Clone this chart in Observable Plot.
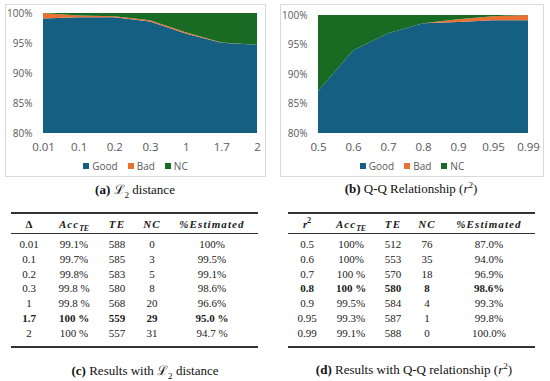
<!DOCTYPE html>
<html><head><meta charset="utf-8">
<script src="https://cdn.jsdelivr.net/npm/d3@7"></script>
<script src="https://cdn.jsdelivr.net/npm/@observablehq/plot@0.6"></script>
<style>
body{margin:0;background:#fff;}
#root{position:relative;width:550px;height:381px;overflow:hidden;}
.box{position:absolute;border:1px solid #d9d9d9;box-sizing:border-box;}
.plot{position:absolute;}
.legend{position:absolute;display:flex;justify-content:center;align-items:center;gap:0;font-family:"Open Sans",sans-serif;font-size:10px;color:#595959;height:12px;}
.legend .it{display:flex;align-items:center;margin:0 5px;}
.legend .sw{width:6px;height:6px;margin-right:3px;}
.cap{position:absolute;font-family:"Liberation Serif",serif;font-size:13px;color:#111;white-space:nowrap;transform:translate(-50%,-50%);}
.cell{position:absolute;font-family:"Liberation Serif",serif;font-size:11px;color:#1a1a1a;white-space:nowrap;transform:translate(-50%,-50%);}
.hd{font-weight:bold;}
.rule{position:absolute;background:#333;}
sub,sup{font-size:70%;line-height:0;}
</style></head><body><div id="root"></div>
<script>
// ---- chart data (percent of samples) ----
const series = ["Good", "Bad", "NC"];
const seriesColors = ["#156082", "#E97132", "#196B24"];
const yTicks = [80, 85, 90, 95, 100];

const l2Labels = ["0.01", "0.1", "0.2", "0.3", "1", "1.7", "2"];
const l2Good = [99.1, 99.3, 99.3, 98.6, 96.6, 95.05, 94.7];
const l2Bad  = [0.9, 0.3, 0.15, 0.2, 0.2, 0.05, 0.0];
const l2NC   = [0.0, 0.4, 0.55, 1.2, 3.2, 4.9, 5.3];

const qqLabels = ["0.5", "0.6", "0.7", "0.8", "0.9", "0.95", "0.99"];
const qqGood = [87.1, 94.0, 96.9, 98.6, 98.8, 99.1, 99.1];
const qqBad  = [0.0, 0.0, 0.0, 0.0, 0.5, 0.7, 0.9];
const qqNC   = [12.9, 6.0, 3.1, 1.4, 0.7, 0.2, 0.0];

// ---- table data ----
const cHeader = ["Δ", "Acc_TE", "TE", "NC", "%Estimated"];
const cDelta = l2Labels;
const cAcc = ["99.1%", "99.7%", "99.8%", "99.8 %", "99.8 %", "100 %", "100 %"];
const cTE = ["588", "585", "583", "580", "568", "559", "557"];
const cNC = ["0", "3", "5", "8", "20", "29", "31"];
const cEst = ["100%", "99.5%", "99.1%", "98.6%", "96.6%", "95.0 %", "94.7 %"];
const cBoldRow = 5;

const dR2 = qqLabels;
const dAcc = ["100%", "100%", "100 %", "100 %", "99.5%", "99.3%", "99.1%"];
const dTE = ["512", "553", "570", "580", "584", "587", "588"];
const dNC = ["76", "35", "18", "8", "4", "1", "0"];
const dEst = ["87.0%", "94.0%", "96.9%", "98.6%", "99.3%", "99.8%", "100.0%"];
const dBoldRow = 3;

const root = document.getElementById("root");

function el(tag, cls, style, html) {
  const e = document.createElement(tag);
  if (cls) e.className = cls;
  Object.assign(e.style, style || {});
  if (html != null) e.innerHTML = html;
  root.appendChild(e);
  return e;
}

function areaChart(labels, good, bad, nc, left, mTop, mRight) {
  const vals = [good, bad, nc];
  const data = [];
  series.forEach((s, k) => labels.forEach((l, i) => data.push({i, series: s, value: vals[k][i]})));
  const chart = Plot.plot({
    width: 270, height: 180,
    marginLeft: 43, marginRight: mRight, marginTop: mTop, marginBottom: 47,
    style: {fontFamily: "Open Sans, sans-serif", fontSize: "10px", color: "#595959", background: "transparent"},
    x: {domain: [0, labels.length - 1]},
    y: {domain: [80, 100]},
    color: {domain: series, range: seriesColors},
    marks: [
      Plot.areaY(data, {x: "i", y: "value", fill: "series", order: series, clip: true}),
      Plot.axisX({ticks: d3.range(labels.length), tickFormat: i => labels[i], tickSize: 0, tickPadding: 9, fontSize: 11.5, label: null}),
      Plot.axisY({ticks: yTicks, tickFormat: d => d + "%", tickSize: 0, tickPadding: 11, fontSize: 10, label: null})
    ]
  });
  chart.classList.add("plot");
  chart.style.left = left + "px";
  chart.style.top = "0px";
  root.appendChild(chart);
}

function legend(left, width) {
  const lg = el("div", "legend", {left: left + "px", width: width + "px", top: "160px"});
  series.forEach((s, k) => {
    const it = document.createElement("div");
    it.className = "it";
    it.innerHTML = `<span class="sw" style="background:${seriesColors[k]}"></span><span>${s}</span>`;
    lg.appendChild(it);
  });
}

// panel boxes
el("div", "box", {left: "5px", top: "4px", width: "261px", height: "173px"});
el("div", "box", {left: "280px", top: "4px", width: "264px", height: "173px"});

areaChart(l2Labels, l2Good, l2Bad, l2NC, 0, 13, 13);
areaChart(qqLabels, qqGood, qqBad, qqNC, 275, 15, 17);
legend(5, 261);
legend(280, 264);

el("div", "cap", {left: "135px", top: "189px"}, "<b>(a)</b> ℒ<sub>2</sub> distance");
el("div", "cap", {left: "411px", top: "189px"}, "<b>(b)</b> Q-Q Relationship (<i>r</i><sup>2</sup>)");

function headerHtml(h, first) {
  if (first) return h === "Δ" ? "Δ" : "<i>r</i><sup>2</sup>";
  if (h === "Acc_TE") return "<i style='letter-spacing:1px'>Acc</i><sub><i>TE</i></sub>";
  return `<i style="letter-spacing:1.1px">${h}</i>`;
}

function table(cols, colX, x0, x1, firstHeader, boldRow) {
  const yTop = 213, yMid = 233, yBot = 347, yHead = 224, row0 = 244, step = 14.83;
  el("div", "rule", {left: x0 + "px", top: (yTop - 0.7) + "px", width: (x1 - x0) + "px", height: "1.4px"});
  el("div", "rule", {left: x0 + "px", top: (yMid - 0.4) + "px", width: (x1 - x0) + "px", height: "0.8px"});
  el("div", "rule", {left: x0 + "px", top: (yBot - 0.7) + "px", width: (x1 - x0) + "px", height: "1.4px"});
  cHeader.forEach((h, j) => {
    el("div", "cell hd", {left: colX[j] + "px", top: yHead + "px"}, headerHtml(j === 0 ? firstHeader : h, j === 0));
  });
  cols.forEach((col, j) => col.forEach((v, i) => {
    const c = el("div", "cell", {left: colX[j] + "px", top: (row0 + i * step) + "px"}, v);
    if (i === boldRow) c.style.fontWeight = "bold";
  }));
}

table([cDelta, cAcc, cTE, cNC, cEst], [29, 74, 117, 152, 212], 11, 258, "Δ", cBoldRow);
table([dR2, dAcc, dTE, dNC, dEst], [307, 351, 393, 427, 489], 288, 535, "r2", dBoldRow);

el("div", "cap", {left: "145px", top: "370px"}, "<b>(c)</b> Results with ℒ<sub>2</sub> distance");
el("div", "cap", {left: "414px", top: "370px"}, "<b>(d)</b> Results with Q-Q relationship (<i>r</i><sup>2</sup>)");
</script></body></html>
